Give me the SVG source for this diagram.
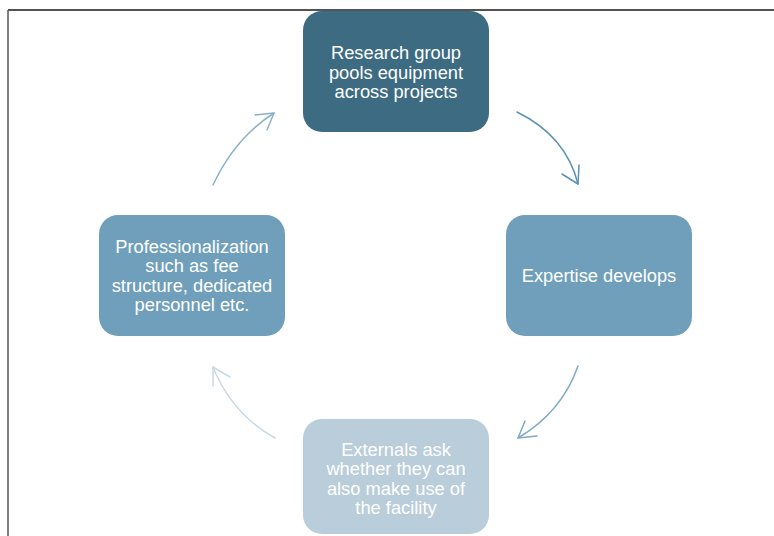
<svg xmlns="http://www.w3.org/2000/svg" width="774" height="536" viewBox="0 0 774 536">
<style>
.t{font-family:"Liberation Sans",Arial,sans-serif;font-size:18.3px;fill:#ffffff;text-anchor:middle}
.c{fill:none;stroke-width:1.5;stroke-linecap:round;stroke-linejoin:round}
</style>
<rect width="774" height="536" fill="#ffffff"/>
<g id="frame">
<line x1="8" y1="10" x2="774" y2="10" stroke="#1a1a1a" stroke-width="1.5"/>
<line x1="8" y1="10" x2="8" y2="536" stroke="#555555" stroke-width="1.5"/>
</g>
<g id="connectors">
<path class="c" stroke="#5b93b3" d="M517,112 Q566,136 578,184"/>
<polyline class="c" stroke="#5b93b3" points="562,174 578,184 579,165"/>
<path class="c" stroke="#80a9c3" d="M578,366 Q562,412 518,438"/>
<polyline class="c" stroke="#80a9c3" points="525,421 518,438 537,436"/>
<path class="c" stroke="#c9dae5" d="M275,438 Q232,414 213,367"/>
<polyline class="c" stroke="#c9dae5" points="213,386 213,367 230,377"/>
<path class="c" stroke="#8bb1c9" d="M213,185 Q235,138 274,113"/>
<polyline class="c" stroke="#8bb1c9" points="255,115 274,113 267,130"/>
</g>
<g id="node-research">
<rect x="303" y="11" width="186" height="121" rx="19" fill="#3c6b82"/>
<text class="t" x="396" y="59">Research group</text>
<text class="t" x="396" y="78.5">pools equipment</text>
<text class="t" x="396" y="98">across projects</text>
</g>
<g id="node-expertise">
<rect x="506" y="215" width="186" height="121" rx="19" fill="#6f9fba"/>
<text class="t" x="599" y="281.5">Expertise develops</text>
</g>
<g id="node-externals">
<rect x="303" y="419" width="186" height="115" rx="19" fill="#b9cddb"/>
<text class="t" x="396" y="455.5">Externals ask</text>
<text class="t" x="396" y="475">whether they can</text>
<text class="t" x="396" y="494.5">also make use of</text>
<text class="t" x="396" y="514">the facility</text>
</g>
<g id="node-professionalization">
<rect x="99" y="215" width="186" height="121" rx="19" fill="#6f9fba"/>
<text class="t" x="192" y="252.5">Professionalization</text>
<text class="t" x="192" y="272">such as fee</text>
<text class="t" x="192" y="291.5">structure, dedicated</text>
<text class="t" x="192" y="311">personnel etc.</text>
</g>
</svg>
